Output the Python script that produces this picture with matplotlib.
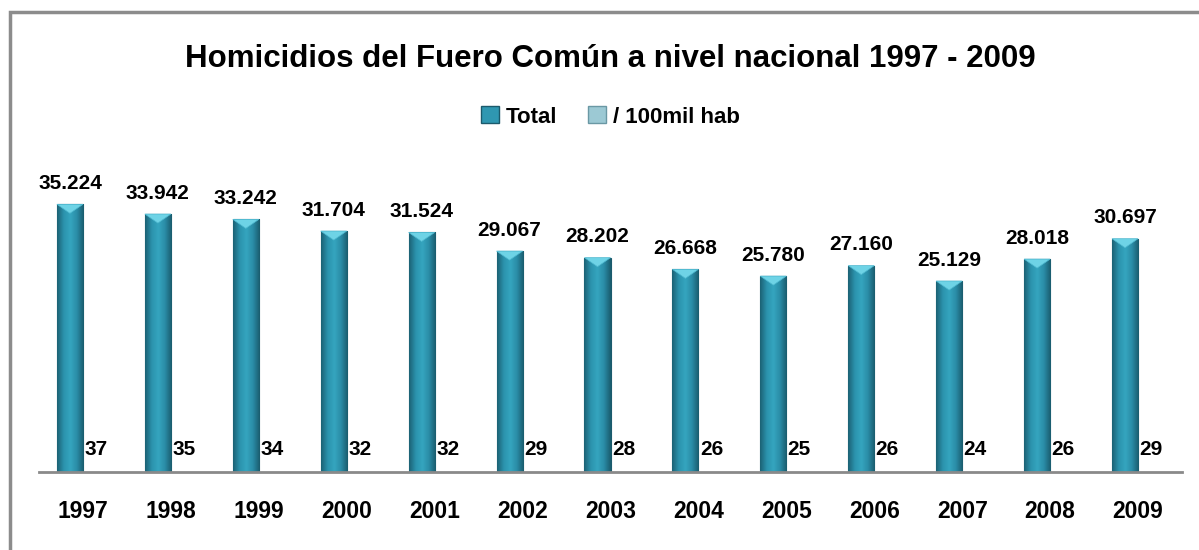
import numpy as np
import matplotlib
matplotlib.use("Agg")
import matplotlib.pyplot as plt
from matplotlib.colors import LinearSegmentedColormap
from matplotlib.patches import Polygon, Rectangle

years = ["1997", "1998", "1999", "2000", "2001", "2002", "2003",
         "2004", "2005", "2006", "2007", "2008", "2009"]
total = [35224, 33942, 33242, 31704, 31524, 29067, 28202,
         26668, 25780, 27160, 25129, 28018, 30697]
per_100k = [37, 35, 34, 32, 32, 29, 28, 26, 25, 26, 24, 26, 29]

FONT = ["Liberation Sans", "DejaVu Sans"]
plt.rcParams["font.family"] = FONT
plt.rcParams["font.weight"] = "bold"

W, H = 1199, 550
fig = plt.figure(figsize=(W / 100, H / 100), dpi=100)
ax = fig.add_axes([39 / W, 1 - 472 / H, (1182 - 39) / W, (472 - 168) / H])

x = np.arange(len(years))
bw = 0.296
teal = "#2a8da7"
light = "#a9d7e3"

ax.set_xlim(-0.5, len(years) - 0.5)
ax.set_ylim(0, 40000)

bars1 = ax.bar(x - bw / 2, total, bw, color=teal, edgecolor="#1b5a6c",
               linewidth=0.8, zorder=3)
bars2 = ax.bar(x + bw / 2, per_100k, bw, color=light, edgecolor=light,
               linewidth=0.5, zorder=3)

# horizontal shading + bevelled top on the Total bars
cmap = LinearSegmentedColormap.from_list(
    "bar", ["#1c6275", "#2b93ad", "#35a5bf", "#2a8ca6", "#1a5c6e"])
grad = np.linspace(0, 1, 64).reshape(1, -1)
px_per_unit = (472 - 168) / 40000
for b in bars1:
    x0, w, h = b.get_x(), b.get_width(), b.get_height()
    im = ax.imshow(grad, cmap=cmap, aspect="auto", extent=(x0, x0 + w, 0, h),
                   zorder=3.5)
    im.set_clip_path(b)
    d = 9 / px_per_unit
    tri = Polygon([(x0, h), (x0 + w, h), (x0 + w / 2, h - d)], closed=True,
                  facecolor="#6ed3e6", edgecolor="#4fb9d0", lw=0.5, zorder=4)
    ax.add_patch(tri)
ax.set_xlim(-0.5, len(years) - 0.5)
ax.set_ylim(0, 40000)

for b, v in zip(bars1, total):
    ax.annotate(f"{v:,}".replace(",", "."),
                (b.get_x() + b.get_width() / 2, b.get_height()),
                xytext=(0, 11), textcoords="offset points", ha="center",
                va="baseline", fontsize=15, fontweight="bold")
for b, v in zip(bars2, per_100k):
    ax.annotate(str(v), (b.get_x() + b.get_width() / 2, b.get_height()),
                xytext=(0, 12), textcoords="offset points", ha="center",
                va="baseline", fontsize=15, fontweight="bold")

for s in ["top", "right", "left"]:
    ax.spines[s].set_visible(False)
ax.spines["bottom"].set_color("#8a8a8a")
ax.spines["bottom"].set_linewidth(2)
ax.spines["bottom"].set_zorder(5)
ax.set_yticks([])
ax.set_xticks(x)
ax.set_xticklabels(years, fontsize=16.5, fontweight="bold")
ax.tick_params(axis="x", length=0, pad=20)

cx = (39 + 1182) / 2 / W
fig.text(cx, 1 - 67 / H, "Homicidios del Fuero Común a nivel nacional 1997 - 2009",
         ha="center", va="baseline", fontsize=22.5, fontweight="bold")

h1 = Rectangle((0, 0), 1, 1, facecolor="#2f97b1", edgecolor="#1b5a6c")
h2 = Rectangle((0, 0), 1, 1, facecolor="#9cc9d4", edgecolor="#6a98a4")
fig.legend([h1, h2], ["Total", "/ 100mil hab"], loc="center",
           bbox_to_anchor=(cx, 1 - 117 / H), ncol=2, frameon=False,
           prop={"size": 16, "weight": "bold"},
           handlelength=0.8, handleheight=0.8, handletextpad=0.3,
           columnspacing=1.4)

# outer frame (only top and left visible in the crop)
fig.add_artist(Rectangle((9.5 / W, -0.05), 1.2, 1 - 11.5 / H + 0.05,
                         transform=fig.transFigure, fill=False,
                         edgecolor="#8c8c8c", linewidth=2.5))

fig.savefig("out.png", dpi=100)
